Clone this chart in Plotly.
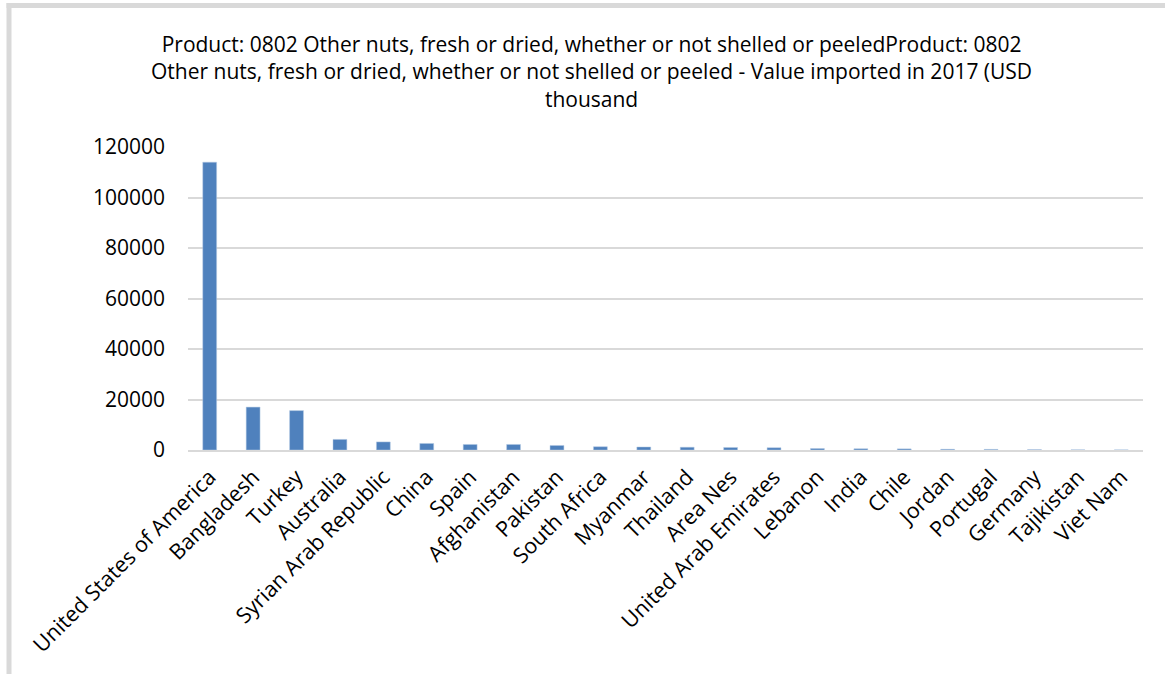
import plotly.graph_objects as go

countries = ["United States of America", "Bangladesh", "Turkey", "Australia",
             "Syrian Arab Republic", "China", "Spain", "Afghanistan", "Pakistan",
             "South Africa", "Myanmar", "Thailand", "Area Nes", "United Arab Emirates",
             "Lebanon", "India", "Chile", "Jordan", "Portugal", "Germany",
             "Tajikistan", "Viet Nam"]
values = [114000, 17000, 15600, 4200, 3200, 2600, 2200, 2200, 1800,
          1300, 1200, 1100, 1000, 900, 600, 500, 450, 300, 250, 150, 80, 50]
y_ticks = [0, 20000, 40000, 60000, 80000, 100000, 120000]

title_text = ("Product: 0802 Other nuts, fresh or dried, whether or not shelled or peeledProduct: 0802<br>"
              "Other nuts, fresh or dried, whether or not shelled or peeled - Value imported in 2017 (USD<br>"
              "thousand")

W, H = 1165, 674
L, R, T, B = 188, 22, 147, 224
pw, ph = W - L - R, H - T - B

FONT = "Open Sans"

fig = go.Figure(go.Bar(
    x=countries, y=values,
    marker=dict(color="#4f81bd", line=dict(color="#b9cde5", width=0.5)),
))

def px2paper_x(px):
    return (px - L) / pw

def py2paper_y(py):
    return (H - B - py) / ph

fig.update_layout(
    width=W, height=H,
    margin=dict(l=L, r=R, t=T, b=B, autoexpand=False),
    paper_bgcolor="white", plot_bgcolor="white",
    bargap=0.68,
    showlegend=False,
    font=dict(family=FONT, color="#000000", size=20),
    annotations=[dict(
        text=title_text, xref="paper", yref="paper",
        x=px2paper_x(591), y=py2paper_y(28), xanchor="center", yanchor="top",
        showarrow=False, align="center",
        font=dict(family=FONT, size=21, color="#000000"),
    )],
    shapes=[
        dict(type="line", xref="paper", yref="paper",
             x0=px2paper_x(9), x1=px2paper_x(9), y0=py2paper_y(3), y1=py2paper_y(680),
             line=dict(color="#d9d9d9", width=5)),
        dict(type="line", xref="paper", yref="paper",
             x0=px2paper_x(6.5), x1=px2paper_x(1170), y0=py2paper_y(5.5), y1=py2paper_y(5.5),
             line=dict(color="#d9d9d9", width=5)),
    ],
)

fig.update_xaxes(
    tickangle=-45, showgrid=False, showline=True, linecolor="#d9d9d9", linewidth=2,
    ticks="", tickfont=dict(family=FONT, size=21.5, color="#000000"),
    ticklabelstandoff=4,
)
fig.update_yaxes(
    range=[0, 120000], tickvals=y_ticks, ticktext=[str(v) for v in y_ticks],
    showgrid=True, gridcolor="#d9d9d9", gridwidth=1.5, zeroline=False, showline=False,
    tickfont=dict(family=FONT, size=21, color="#000000"),
    ticklabelstandoff=22,
)

fig.write_html("out.html")
